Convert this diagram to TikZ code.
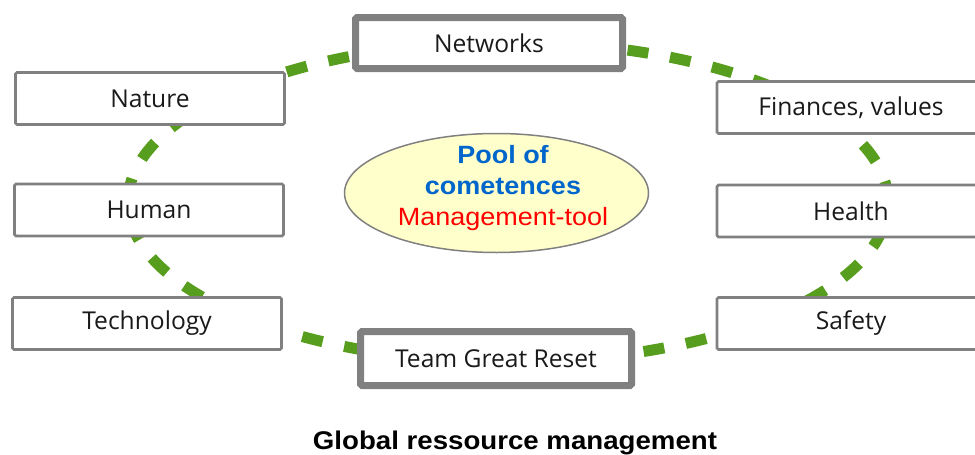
\documentclass[tikz,border=0pt]{standalone}
\usepackage{fontspec}
\setmainfont{Open Sans}
\newfontfamily\poolfont[FakeStretch=1.08]{Liberation Sans}
\usetikzlibrary{shapes.geometric}
\definecolor{ringgreen}{RGB}{88,158,30}
\definecolor{boxgray}{RGB}{128,128,128}
\definecolor{poolfill}{RGB}{255,255,204}
\definecolor{poolblue}{RGB}{0,102,204}
\definecolor{labelblack}{RGB}{26,26,26}

\begin{document}
\begin{tikzpicture}[x=1pt,y=-1pt,
  box/.style={draw=boxgray,line width=2.7pt,fill=white,rounded corners=1.5pt,
    minimum width=269pt,minimum height=52pt,inner sep=0pt,text=labelblack,
    font=\fontsize{24.6}{28}\selectfont},
  keybox/.style={box,line width=7pt,minimum width=271pt,minimum height=54pt}]
\useasboundingbox (0,0) rectangle (975,455);

% dashed ring behind the boxes
\coordinate (ring) at (508,202);
\draw[ringgreen,line width=11pt,dash pattern=on 21pt off 22pt] (ring) ellipse [x radius=380pt, y radius=160pt];

\node[keybox,minimum width=267pt,minimum height=51pt] (networks) at (489,43) {Networks};
\node[box] (nature) at (150,98.5) {Nature};
\node[box] (human) at (149,210) {Human};
\node[box] (technology) at (147,323.5) {Technology};
\node[keybox] (team) at (496,358.5) {Team Great Reset};
\node[box,minimum width=268pt] (finances) at (851,107.5) {Finances, values};
\node[box,minimum width=268pt] (health) at (851,211) {Health};
\node[box,minimum width=268pt] (safety) at (851,323.5) {Safety};

% centre
\node[ellipse,draw=boxgray,line width=1.5pt,fill=poolfill,minimum width=304pt,minimum height=119pt] (pool) at (496.5,193) {};
\node[align=center,font=\poolfont\fontsize{25}{31}\selectfont] (pooltext) at (503,188)
  {\textcolor{poolblue}{\bfseries Pool of}\\\textcolor{poolblue}{\bfseries cometences}\\\textcolor{red}{Management-tool}};

\node[anchor=base,font=\poolfont\bfseries\fontsize{25.6}{30}\selectfont] (title) at (515,449) {Global ressource management};
\end{tikzpicture}
\end{document}
